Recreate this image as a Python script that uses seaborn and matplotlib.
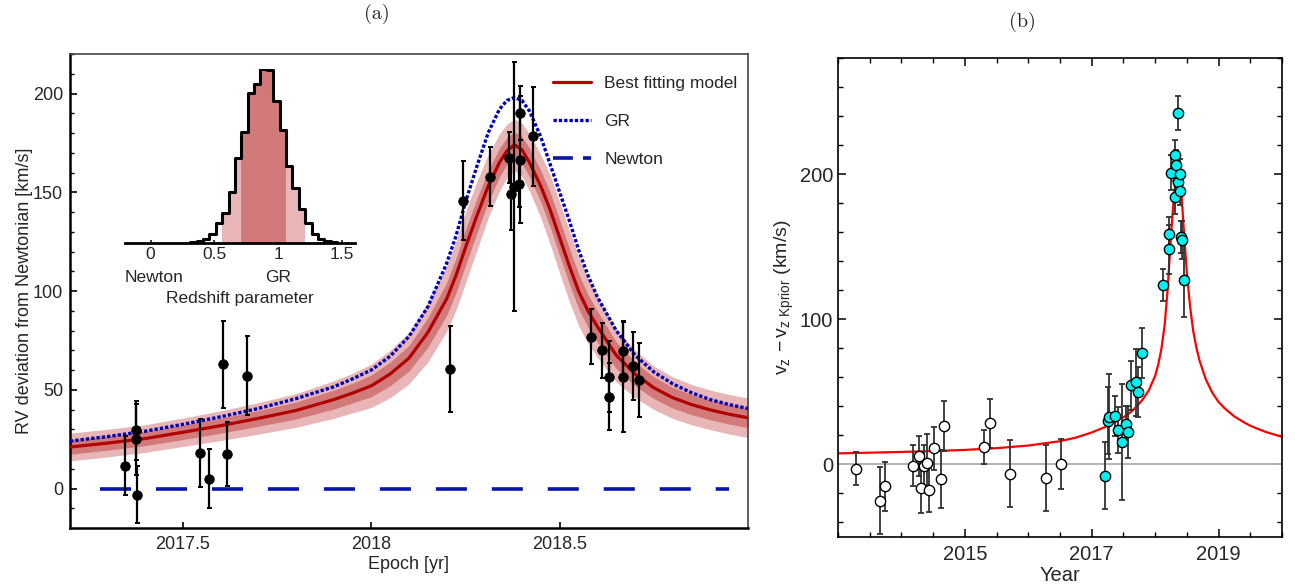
import numpy as np
import pandas as pd
import matplotlib
matplotlib.use("Agg")
import matplotlib.pyplot as plt
import matplotlib.transforms as mtransforms
from matplotlib.lines import Line2D
from matplotlib.ticker import MultipleLocator, FixedLocator
import seaborn as sns

# ---------------- panel (a): data points ----------------
a_epoch = [2017.345, 2017.374, 2017.376, 2017.378, 2017.546, 2017.569, 2017.606, 2017.617,
           2017.670, 2018.210, 2018.243, 2018.314, 2018.365, 2018.371, 2018.378, 2018.392,
           2018.394, 2018.394, 2018.428, 2018.582, 2018.612, 2018.630, 2018.631, 2018.667,
           2018.667, 2018.695, 2018.711]
a_rv = [11.6, 29.4, 24.9, -3.2, 18.0, 4.9, 62.8, 17.5,
        57.2, 60.4, 145.8, 157.9, 167.5, 149.0, 152.7, 154.4,
        190.2, 166.5, 178.3, 76.9, 69.9, 56.6, 46.5, 69.4,
        56.7, 62.0, 54.9]
a_err = [15, 15, 18, 14.5, 17, 15, 22, 16,
         20, 21.7, 20, 15, 13, 18, 63, 12,
         13.5, 32, 25, 14, 14, 18, 17, 15,
         28, 17, 18.6]

# ---------------- panel (a): model curves ----------------
model_epoch = [2017.2, 2017.3, 2017.4, 2017.5, 2017.6, 2017.7, 2017.8, 2017.9, 2017.95,
               2018.0, 2018.05, 2018.1, 2018.15, 2018.2, 2018.225, 2018.25, 2018.28,
               2018.31, 2018.34, 2018.36, 2018.38, 2018.40, 2018.42, 2018.45, 2018.475,
               2018.5, 2018.525, 2018.55, 2018.575, 2018.6, 2018.65, 2018.7, 2018.75,
               2018.8, 2018.85, 2018.9, 2018.95, 2019.0]
best_fit = [21.0, 23.0, 25.3, 28.5, 31.8, 35.5, 39.5, 45.0, 48.3,
            52.0, 58.0, 66.0, 79.0, 96.0, 108.0, 122.0, 138.0,
            153.0, 165.0, 171.0, 174.0, 171.5, 165.0, 153.0, 141.0,
            127.0, 113.0, 100.0, 90.0, 82.0, 67.5, 58.0, 51.0,
            46.0, 42.5, 39.8, 37.6, 35.8]
gr_curve = [24.0, 26.3, 29.0, 32.5, 36.3, 40.5, 45.5, 51.5, 55.5,
            60.0, 67.0, 77.0, 92.0, 114.0, 128.0, 145.0, 163.0,
            180.0, 192.0, 196.5, 198.0, 196.5, 191.0, 178.0, 164.0,
            150.0, 136.0, 121.0, 108.0, 97.0, 80.0, 67.5, 59.0,
            53.0, 48.5, 45.0, 42.5, 40.5]
band2_hw = [7.0, 7.0, 7.0, 7.2, 7.5, 8.0, 8.5, 9.5, 10.0,
            11.0, 12.0, 13.0, 15.0, 16.5, 17.5, 18.0, 17.5,
            16.0, 14.5, 13.5, 13.0, 13.5, 14.5, 16.0, 17.5,
            18.0, 18.0, 17.5, 16.5, 15.5, 13.5, 12.0, 11.0,
            10.5, 10.2, 10.0, 10.0, 10.0]
band1_hw = [3.6, 3.6, 3.6, 3.7, 3.8, 4.0, 4.3, 4.8, 5.0,
            5.5, 6.0, 6.5, 7.5, 8.3, 8.8, 9.0, 8.8,
            8.0, 7.3, 6.8, 6.5, 6.8, 7.3, 8.0, 8.8,
            9.0, 9.0, 8.8, 8.3, 7.8, 6.8, 6.0, 5.5,
            5.3, 5.1, 5.0, 5.0, 5.0]
newton_epoch = [2017.28, 2018.95]
newton_rv = [0.0, 0.0]

# ---------------- inset: redshift parameter histogram ----------------
rs_edges = [0.31, 0.36, 0.41, 0.46, 0.51, 0.56, 0.61, 0.66, 0.71, 0.76, 0.81, 0.86,
            0.91, 0.96, 1.01, 1.06, 1.11, 1.16, 1.21, 1.26, 1.31, 1.36, 1.41, 1.46]
rs_counts = [2, 5, 11, 28, 60, 90, 153, 255, 333, 448, 476, 520,
             518, 425, 338, 230, 163, 103, 60, 28, 11, 5, 2]
rs_1sigma = (0.71, 1.06)
rs_2sigma = (0.56, 1.21)
rs_ticks = [0, 0.5, 1, 1.5]
rs_ticklabels = ["0", "0.5", "1", "1.5"]

# ---------------- panel (b) ----------------
b_open_year = [2013.28, 2013.665, 2013.74, 2014.19, 2014.27, 2014.31, 2014.35, 2014.41,
               2014.44, 2014.52, 2014.63, 2014.67, 2015.30, 2015.39, 2015.71, 2016.28, 2016.52]
b_open_v = [-3.0, -25.0, -15.1, -0.9, 5.8, -16.5, -0.9, 1.2,
            -17.6, 11.0, -10.0, 26.4, 12.0, 28.2, -6.4, -9.4, 0.3]
b_open_err = [11.5, 23, 17, 14, 14, 17, 14, 20,
              15, 14.5, 20, 17, 11.5, 17, 23, 23, 17.4]

b_cyan_year = [2017.21, 2017.25, 2017.28, 2017.37, 2017.41, 2017.48, 2017.545, 2017.565,
               2017.62, 2017.70, 2017.73, 2017.80, 2018.117, 2018.215, 2018.22, 2018.256,
               2018.314, 2018.314, 2018.325, 2018.366, 2018.366, 2018.393, 2018.393, 2018.41,
               2018.425, 2018.46]
b_cyan_v = [-7.8, 30.1, 33.0, 33.3, 23.9, 15.6, 28.0, 22.5,
            54.4, 56.7, 49.8, 76.7, 123.9, 148.2, 158.8, 201.0,
            213.0, 184.0, 206.5, 242.3, 194.6, 199.9, 188.6, 157.0,
            154.4, 126.9]
b_cyan_err = [23, 23, 29, 14, 16, 40, 12, 18,
              17, 23, 17, 17, 11, 17, 12, 12,
              10.3, 11.5, 10, 11.8, 12, 10.5, 10, 11,
              13, 25]

b_model_year = [2013.0, 2013.5, 2014.0, 2014.5, 2015.0, 2015.5, 2016.0, 2016.5, 2016.75,
                2017.0, 2017.25, 2017.5, 2017.6, 2017.7, 2017.8, 2017.9, 2018.0, 2018.05,
                2018.1, 2018.15, 2018.2, 2018.25, 2018.3, 2018.33, 2018.36, 2018.39,
                2018.42, 2018.45, 2018.5, 2018.55, 2018.6, 2018.65, 2018.7, 2018.8,
                2018.9, 2019.0, 2019.1, 2019.25, 2019.4, 2019.5, 2019.6, 2019.75,
                2019.9, 2020.0]
b_model_v = [7.6, 8.1, 8.6, 9.2, 10.0, 11.2, 13.0, 16.0, 18.5,
             22.0, 26.5, 32.5, 35.5, 39.5, 44.5, 51.0, 61.0, 69.0,
             80.0, 96.0, 122.0, 158.0, 187.0, 197.0, 200.0, 196.0,
             183.0, 163.0, 132.0, 109.0, 92.0, 80.5, 71.5, 58.5,
             49.5, 43.0, 38.5, 33.0, 29.0, 26.7, 24.8, 22.3,
             20.3, 19.0]

# ---------------- style ----------------
RED = "#b20000"
BAND_IN = "#d27a7a"
BAND_OUT = "#e8b6b6"
BLUE = "#0000b4"
BLUE2 = "#0a14a8"
CYAN = "#00f0f0"

sns.set_theme(style="ticks")
plt.rcParams['font.family'] = ['Liberation Sans', 'DejaVu Sans']
plt.rcParams['mathtext.fontset'] = 'custom'
plt.rcParams['mathtext.rm'] = 'Liberation Sans'
plt.rcParams['mathtext.it'] = 'Liberation Sans'
plt.rcParams['mathtext.bf'] = 'Liberation Sans:bold'

W, H = 1295, 587
fig = plt.figure(figsize=(W / 100, H / 100), dpi=100, facecolor="white")


def px_axes(l, t, r, b):
    return [l / W, 1 - b / H, (r - l) / W, (b - t) / H]


axA = fig.add_axes(px_axes(70, 54, 748, 528))
axB = fig.add_axes(px_axes(838, 58, 1282, 537))
axI = fig.add_axes(px_axes(125, 69, 355, 243))

# ================= panel (a) =================
ep = np.array(model_epoch)
bf = np.array(best_fit)
h1 = np.array(band1_hw)
h2 = np.array(band2_hw)
axA.fill_between(ep, bf - h2, bf + h2, color=BAND_OUT, lw=0, zorder=1)
axA.fill_between(ep, bf - h1, bf + h1, color=BAND_IN, lw=0, zorder=2)
sns.lineplot(x=model_epoch, y=best_fit, ax=axA, color=RED, lw=2.3, zorder=3)
sns.lineplot(x=model_epoch, y=gr_curve, ax=axA, color=BLUE, lw=2.4, zorder=4)
axA.lines[-1].set_dashes([1.0, 0.6])
sns.lineplot(x=newton_epoch, y=newton_rv, ax=axA, color=BLUE2, lw=2.6, zorder=4)
axA.lines[-1].set_dashes([8.6, 6.9])

axA.errorbar(a_epoch, a_rv, yerr=a_err, fmt='none', ecolor='black', elinewidth=1.6,
             capsize=1.8, capthick=1.4, zorder=5)
sns.scatterplot(x=a_epoch, y=a_rv, ax=axA, color='black', s=48, edgecolor='black',
                linewidth=0.5, zorder=6)

axA.set_xlim(2017.2, 2019.0)
axA.set_ylim(-20, 220)
axA.xaxis.set_major_locator(FixedLocator([2017.5, 2018.0, 2018.5]))
axA.set_xticklabels(["2017.5", "2018", "2018.5"])
axA.yaxis.set_major_locator(MultipleLocator(50))
axA.yaxis.set_minor_locator(MultipleLocator(10))
axA.tick_params(axis='both', which='both', direction='in', top=False, right=False,
                labelsize=13, color='black')
axA.tick_params(axis='y', which='major', length=5, width=1.2, pad=5)
axA.tick_params(axis='y', which='minor', length=3, width=1.0)
axA.tick_params(axis='x', which='major', length=4, width=1.2, pad=6)
for s in ['left', 'bottom']:
    axA.spines[s].set_linewidth(1.8)
    axA.spines[s].set_color('black')
for s in ['top', 'right']:
    axA.spines[s].set_linewidth(1.2)
    axA.spines[s].set_color('#444444')
axA.set_xlabel("Epoch [yr]", fontsize=13, labelpad=2)
axA.set_ylabel("RV deviation from Newtonian [km/s]", fontsize=13, labelpad=0)

handles = [Line2D([], [], color=RED, lw=2.3),
           Line2D([], [], color=BLUE, lw=2.4, dashes=[1.0, 0.6]),
           Line2D([], [], color=BLUE2, lw=2.6, dashes=[5.5, 2.8])]
axA.legend(handles, ["Best fitting model", "GR", "Newton"], loc='upper right',
           bbox_to_anchor=(1.0, 0.975), frameon=False, fontsize=12.5, handlelength=2.2,
           handletextpad=0.75, labelspacing=1.3, borderaxespad=0.2)

# ================= inset =================
axI.patch.set_alpha(0)
edges = np.array(rs_edges)
centers = 0.5 * (edges[:-1] + edges[1:])
counts = np.array(rs_counts, dtype=float)
light = (centers > rs_2sigma[0]) & (centers < rs_2sigma[1])
dark = (centers > rs_1sigma[0]) & (centers < rs_1sigma[1])
sns.histplot(x=centers[light], weights=counts[light], bins=rs_edges, element='bars',
             color=BAND_OUT, alpha=1, linewidth=0, ax=axI)
sns.histplot(x=centers[dark], weights=counts[dark], bins=rs_edges, element='bars',
             color=BAND_IN, alpha=1, linewidth=0, ax=axI)
sns.histplot(x=centers, weights=counts, bins=rs_edges, element='step', fill=False,
             color='black', linewidth=2.2, ax=axI)
axI.set_xlim(-0.2, 1.6)
axI.set_ylim(0, max(rs_counts))
for s in ['left', 'top', 'right']:
    axI.spines[s].set_visible(False)
axI.spines['bottom'].set_linewidth(2.0)
axI.spines['bottom'].set_color('black')
axI.set_yticks([])
axI.set_ylabel("")
axI.set_xlabel("")
axI.set_xticks(rs_ticks)
axI.set_xticklabels(rs_ticklabels)
axI.tick_params(axis='x', direction='in', length=2, labelsize=12.5, pad=3)
trI = mtransforms.blended_transform_factory(axI.transData, axI.transAxes)
axI.text(0.03, -0.196, "Newton", transform=trI, ha='center', va='center', fontsize=12.5)
axI.text(1.0, -0.196, "GR", transform=trI, ha='center', va='center', fontsize=12.5)
axI.text(0.5, -0.32, "Redshift parameter", transform=axI.transAxes, ha='center',
         va='center', fontsize=12.5)

# ================= panel (b) =================
axB.axhline(0, color='#b4b4b4', lw=1.4, zorder=1)
sns.lineplot(x=b_model_year, y=b_model_v, ax=axB, color='#ff0000', lw=1.6, zorder=2)
axB.errorbar(b_open_year, b_open_v, yerr=b_open_err, fmt='none', ecolor='#333333',
             elinewidth=1.3, capsize=2.5, capthick=1.3, zorder=3)
axB.errorbar(b_cyan_year, b_cyan_v, yerr=b_cyan_err, fmt='none', ecolor='#333333',
             elinewidth=1.3, capsize=2.5, capthick=1.3, zorder=3)
sns.scatterplot(x=b_open_year, y=b_open_v, ax=axB, color='white', edgecolor='black',
                s=55, linewidth=1.0, zorder=4)
sns.scatterplot(x=b_cyan_year, y=b_cyan_v, ax=axB, color=CYAN, edgecolor='black',
                s=55, linewidth=1.0, zorder=5)

axB.set_xlim(2013, 2020)
axB.set_ylim(-50, 280)
axB.xaxis.set_major_locator(FixedLocator([2015, 2017, 2019]))
axB.set_xticklabels(["2015", "2017", "2019"])
axB.xaxis.set_minor_locator(MultipleLocator(0.5))
axB.yaxis.set_major_locator(FixedLocator([0, 100, 200]))
axB.set_yticklabels(["0", "100", "200"])
axB.yaxis.set_minor_locator(MultipleLocator(20))
axB.tick_params(axis='both', which='both', direction='in', top=True, right=True,
                labelsize=14.5, color='black')
axB.tick_params(axis='both', which='major', length=6, width=1.1)
axB.tick_params(axis='both', which='minor', length=3.8, width=1.0)
axB.tick_params(axis='x', which='major', pad=6)
axB.tick_params(axis='y', which='major', pad=3.5)
for s in axB.spines.values():
    s.set_linewidth(1.2)
    s.set_color('black')
axB.set_xlabel("Year", fontsize=14.5, labelpad=1)
axB.set_ylabel(r"$\mathregular{v_z\,-v_{z\ Kprior}}$ (km/s)", fontsize=14, labelpad=3)

# ================= titles =================
fig.text(377 / W, 1 - 14 / H, "(a)", ha='center', va='center', fontsize=14.5,
         family=['cmr10', 'DejaVu Serif'])
fig.text(1022 / W, 1 - 22 / H, "(b)", ha='center', va='center', fontsize=14.5,
         family=['cmr10', 'DejaVu Serif'])

fig.savefig("out.png", dpi=100, facecolor="white")
